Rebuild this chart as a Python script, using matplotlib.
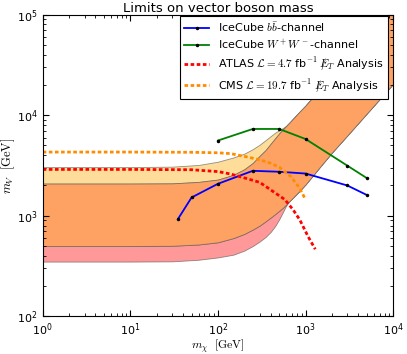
import numpy as np
import matplotlib.pyplot as plt

# band boundaries (m_chi in GeV -> m_V in GeV)
band_x = [1, 10, 30, 60, 100, 150, 200, 250, 300, 350, 400, 450, 500, 550, 600, 650,
          700, 850, 1000, 1500, 2000, 3000, 5000, 10000]
orange_top = [2090, 2090, 2100, 2170, 2290, 2550, 2900, 3350, 3950, 4500, 5200, 5900,
              6600, 7200, 7800, 8400, 9000, 10800, 12500, 18800, 25000, 37500, 62500, 125000]
yellow_top = [3050, 3050, 3080, 3200, 3450, 3800, 4150, 4600, 5100, 5650, 6200, 6700,
              7100, 7450, 7850, 8400, 9000, 10800, 12500, 18800, 25000, 37500, 62500, 125000]
orange_bot = [500, 500, 503, 518, 545, 600, 660, 730, 800, 880, 960, 1040, 1120, 1200,
              1290, 1390, 1480, 1760, 2050, 3150, 4250, 6300, 10400, 20500]
pink_bot = [350, 350, 352, 365, 385, 410, 450, 500, 555, 615, 690, 790, 920, 1080,
            1260, 1390, 1480, 1760, 2050, 3150, 4250, 6300, 10400, 20500]

# IceCube limits
bb_x = [35, 50, 100, 250, 500, 1000, 3000, 5000]
bb_y = [930, 1520, 2080, 2800, 2740, 2630, 2000, 1610]
ww_x = [100, 250, 500, 1000, 3000, 5000]
ww_y = [5600, 7300, 7300, 5800, 3150, 2370]

# collider limits
atlas_x = [1, 10, 50, 100, 140, 230, 300, 400, 580, 720, 860, 1070, 1290]
atlas_y = [2890, 2890, 2870, 2750, 2600, 2300, 2150, 1810, 1450, 1150, 910, 620, 465]
cms_x = [1, 10, 50, 100, 140, 230, 300, 400, 500, 680, 850, 980]
cms_y = [4300, 4300, 4280, 4230, 4150, 3800, 3600, 3330, 3050, 2450, 1900, 1500]

fig = plt.figure(figsize=(4.07, 3.54), dpi=100)
ax = fig.add_axes([0.105, 0.1065, 0.861, 0.852])

edge = (0.3, 0.3, 0.3, 0.6)
ax.fill_between(band_x, pink_bot, orange_bot, facecolor='#FF9999', edgecolor=edge, lw=0.6)
ax.fill_between(band_x, orange_top, yellow_top, facecolor='#FEDC99', edgecolor=edge, lw=0.6)
ax.fill_between(band_x, orange_bot, orange_top, facecolor='#FDA263', edgecolor=edge, lw=0.6)

ax.plot(bb_x, bb_y, color='blue', lw=1.3, marker='.', ms=3, mfc='k', mec='k',
        label=r'IceCube $b\bar{b}$-channel')
ax.plot(ww_x, ww_y, color='green', lw=1.3, marker='.', ms=3, mfc='k', mec='k',
        label=r'IceCube $W^+W^-$-channel')
ax.plot(atlas_x, atlas_y, color='red', lw=2, dashes=(1.3, 0.9),
        label=r'ATLAS $\mathcal{L}=4.7$ fb$^{-1}$ $/\!\!\!\!E_T$ Analysis')
ax.plot(cms_x, cms_y, color='darkorange', lw=2, dashes=(1.3, 0.9),
        label=r'CMS $\mathcal{L}=19.7$ fb$^{-1}$ $/\!\!\!\!E_T$ Analysis')

ax.set_xscale('log')
ax.set_yscale('log')
ax.set_xlim(1, 1e4)
ax.set_ylim(1e2, 1e5)
ax.tick_params(which='both', direction='in', top=True, right=True, labelsize=8)
ax.tick_params(which='major', length=4)
ax.tick_params(which='minor', length=2)

ax.set_title('Limits on vector boson mass', fontsize=9.5, pad=2)
ax.set_xlabel(r'$m_\chi\ \ [\mathrm{GeV}]$', fontsize=8.5, math_fontfamily='cm', labelpad=-0.5)
ax.set_ylabel(r'$m_V\ \ [\mathrm{GeV}]$', fontsize=9, math_fontfamily='cm', labelpad=0)

leg = ax.legend(loc='upper right', bbox_to_anchor=(0.985, 0.997), borderaxespad=0,
                fontsize=8, fancybox=False, framealpha=1, edgecolor='k',
                handlelength=2.2, numpoints=1, labelspacing=0.35)
leg.get_frame().set_linewidth(0.8)
for t in leg.get_texts():
    t.set_math_fontfamily('cm')

fig.savefig('out.png', dpi=100)
